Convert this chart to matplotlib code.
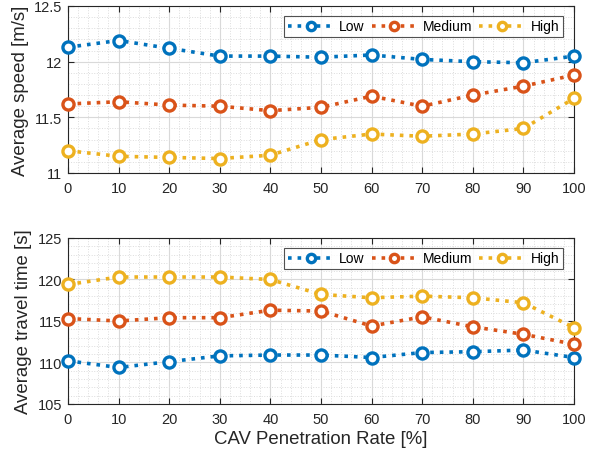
import matplotlib
matplotlib.use("Agg")
from matplotlib import pyplot as plt
from matplotlib.ticker import MultipleLocator

plt.rcParams['font.family'] = ['Liberation Sans', 'DejaVu Sans']

rate = [0, 10, 20, 30, 40, 50, 60, 70, 80, 90, 100]

speed_low = [12.13, 12.19, 12.12, 12.05, 12.05, 12.04, 12.06, 12.02, 12.00, 11.99, 12.05]
speed_med = [11.62, 11.64, 11.61, 11.60, 11.56, 11.59, 11.69, 11.60, 11.70, 11.78, 11.88]
speed_high = [11.20, 11.15, 11.14, 11.13, 11.16, 11.30, 11.35, 11.33, 11.35, 11.40, 11.67]

time_low = [110.2, 109.4, 110.1, 110.8, 110.9, 110.9, 110.6, 111.2, 111.3, 111.5, 110.6]
time_med = [115.3, 115.0, 115.4, 115.4, 116.3, 116.2, 114.4, 115.5, 114.3, 113.4, 112.2]
time_high = [119.4, 120.3, 120.3, 120.3, 120.0, 118.2, 117.8, 118.0, 117.8, 117.2, 114.2]

labels = ['Low', 'Medium', 'High']
colors = ['#0072BD', '#D95319', '#EDB120']
axcol = '#262626'


def style_axis(ax, ylim, ymajor, yminor, ylabel):
    ax.set_xlim(0, 100)
    ax.set_ylim(*ylim)
    ax.xaxis.set_major_locator(MultipleLocator(10))
    ax.xaxis.set_minor_locator(MultipleLocator(2))
    ax.yaxis.set_major_locator(MultipleLocator(ymajor))
    ax.yaxis.set_minor_locator(MultipleLocator(yminor))
    ax.grid(which='major', color='#d9d9d9', linewidth=0.8)
    ax.grid(which='minor', color='#dcdcdc', linestyle=':', linewidth=0.7)
    ax.set_axisbelow(True)
    ax.tick_params(which='both', direction='in', top=True, right=True,
                   colors=axcol, labelsize=10.5)
    ax.tick_params(axis='x', pad=6)
    ax.tick_params(axis='y', pad=4)
    ax.tick_params(which='major', length=4)
    ax.tick_params(which='minor', length=0)
    for s in ax.spines.values():
        s.set_color(axcol)
        s.set_linewidth(0.8)
    ax.set_ylabel(ylabel, fontsize=13.4, color=axcol, labelpad=4)
    leg = ax.legend(loc='upper right', ncol=3, fontsize=10, frameon=True,
                    fancybox=False, edgecolor=axcol, borderpad=0.25,
                    handlelength=3.3, columnspacing=0.5, handletextpad=0.4,
                    markerscale=0.75, borderaxespad=0,
                    bbox_to_anchor=(0.978, 0.94))
    leg.get_frame().set_linewidth(0.8)


fig = plt.figure(figsize=(6.02, 4.6), dpi=100)
ax1 = fig.add_axes([68/602, 1-174/460, 506/602, 167/460])
ax2 = fig.add_axes([68/602, 1-405/460, 506/602, 166/460])

for ax, series in [(ax1, [speed_low, speed_med, speed_high]),
                   (ax2, [time_low, time_med, time_high])]:
    for ys, lab, c in zip(series, labels, colors):
        ax.plot(rate, ys, linestyle=':', linewidth=2.6, color=c, marker='o',
                markersize=8, markeredgewidth=2.4, markerfacecolor='white',
                label=lab, clip_on=False, zorder=3)

style_axis(ax1, (11, 12.5), 0.5, 0.1, 'Average speed [m/s]')
ax1.set_yticks([11, 11.5, 12, 12.5])
ax1.set_yticklabels(['11', '11.5', '12', '12.5'])
style_axis(ax2, (105, 125), 5, 1, 'Average travel time [s]')
ax2.set_xlabel('CAV Penetration Rate [%]', fontsize=13.4, color=axcol, labelpad=3)

fig.savefig('out.png', dpi=100)
